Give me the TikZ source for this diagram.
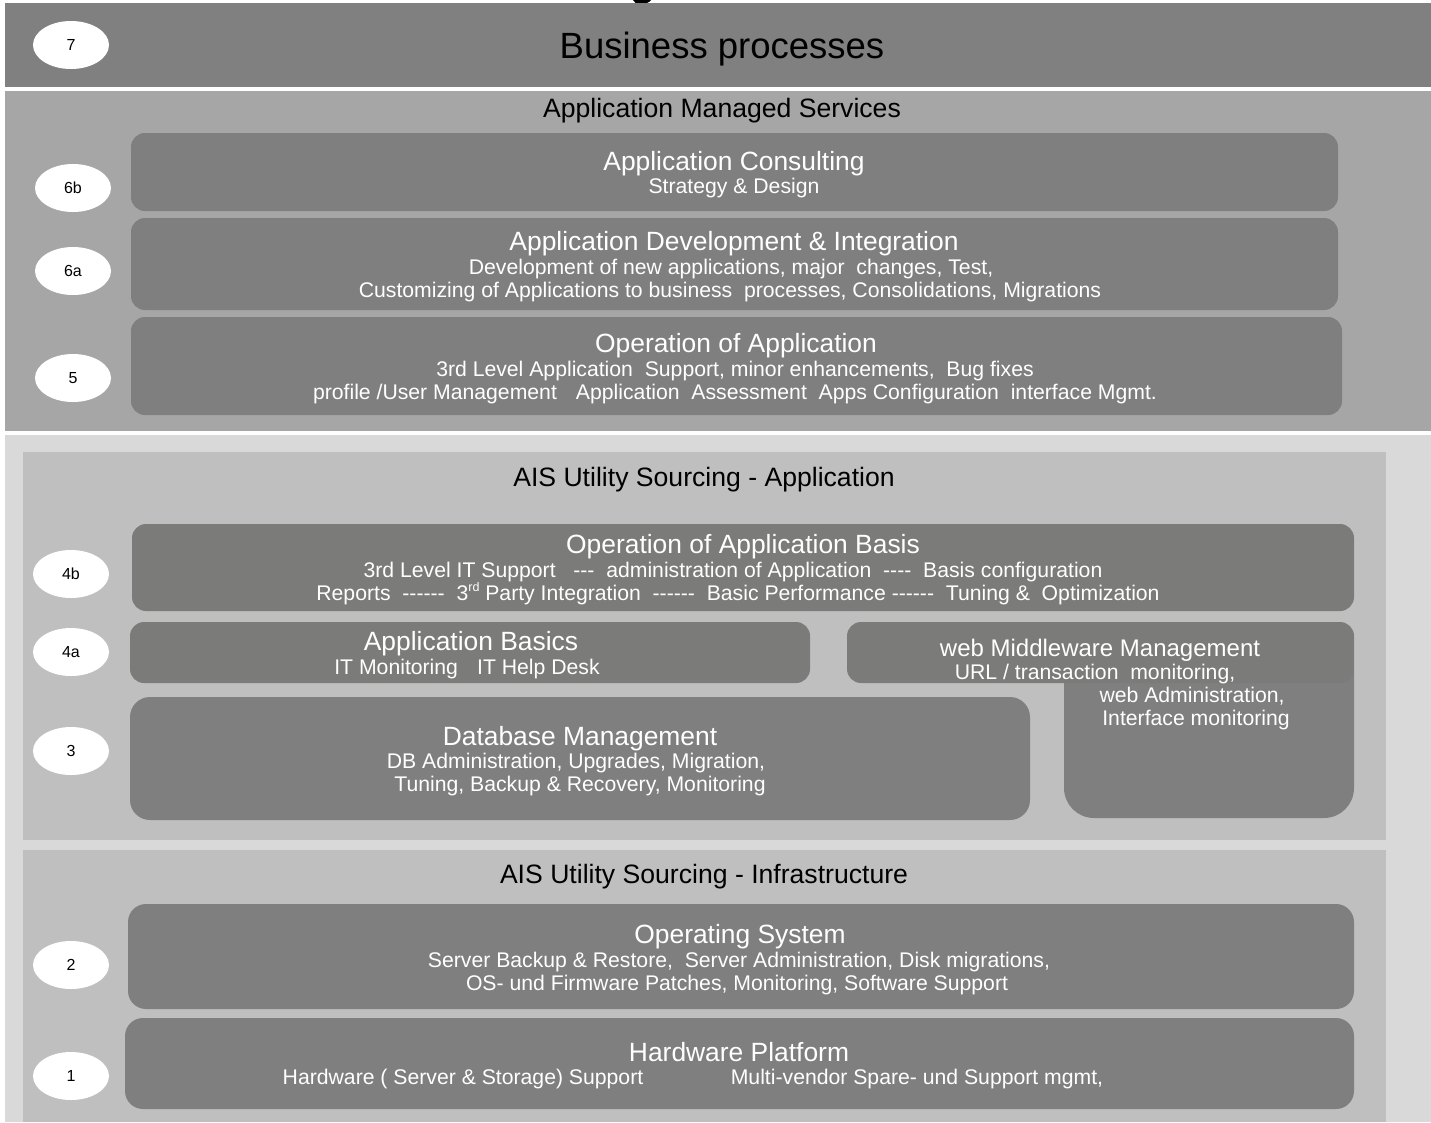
\documentclass[tikz,border=0pt]{standalone}
\usepackage{fontspec}
\setmainfont{Liberation Sans}
\usetikzlibrary{shapes.geometric,fit}

\definecolor{bandDark}{HTML}{808080}
\definecolor{bandMid}{HTML}{A6A6A6}
\definecolor{outerGrey}{HTML}{D9D9D9}
\definecolor{panelGrey}{HTML}{BFBFBF}
\definecolor{boxGrey}{HTML}{7F7F7F}
\definecolor{boxGreyB}{HTML}{7B7B79}

\tikzset{
  area/.style={fill=#1, draw=none, inner sep=0pt, outer sep=0pt, rectangle},
  pbox/.style={fill=boxGrey, draw=none, rounded corners=14pt, inner sep=0pt, outer sep=0pt, rectangle},
  tag/.style={ellipse, fill=white, draw=none, minimum width=76pt, minimum height=48pt,
              inner sep=0pt, font=\fontsize{16}{18}\selectfont},
  bigtitle/.style={anchor=base, inner sep=0pt, font=\fontsize{36.5}{40}\selectfont, text=black},
  head/.style={anchor=base, inner sep=0pt, font=\fontsize{26.6}{30}\selectfont, text=black},
  ttl/.style={anchor=base, inner sep=0pt, font=\fontsize{26.4}{30}\selectfont, text=white},
  sub/.style={anchor=base, inner sep=0pt, font=\fontsize{21.2}{24}\selectfont, text=white},
}
\newcommand{\gap}{\hspace{0.9em}}
\newcommand{\ordsup}[1]{\raisebox{0.42em}{\fontsize{12.5}{13}\selectfont #1}}

\begin{document}
\begin{tikzpicture}[x=1pt, y=-1pt]
\useasboundingbox (0,0) rectangle (1431,1122);
\fill[white] (0,0) rectangle (1431,1122);

% descender of a heading cut off at the top edge
\fill[black] (633,0) -- (651,0) .. controls (649,3) and (645,4) .. (640,4) .. controls (636,4) and (634,2) .. (633,0) -- cycle;

% horizontal bands
\node[area=bandDark, fit={(5,3) (1431,87)}] (band7) {};
\node[area=bandMid, fit={(5,91) (1431,431)}] (bandams) {};
\node[area=outerGrey, fit={(5,435) (1431,1122)}] (bandais) {};
\node[area=panelGrey, fit={(23,452) (1386,840)}] (panelapp) {};
\node[area=panelGrey, fit={(23,850) (1386,1122)}] (panelinf) {};

% band headings
\node[bigtitle] (tbp) at (722,58) {Business processes};
\node[head] (tams) at (722,117) {Application Managed Services};
\node[head] (tapp) at (704,486) {AIS Utility Sourcing - Application};
\node[head] (tinf) at (704,883) {AIS Utility Sourcing - Infrastructure};

% service boxes
\node[pbox, fit={(131,133) (1338,211)}] (bcons) {};
\node[pbox, fit={(131,218) (1338,310)}] (bdev) {};
\node[pbox, fit={(131,317) (1342,415)}] (bops) {};
\node[pbox, fill=boxGreyB, fit={(132,524) (1354,611)}] (bbasis) {};
\node[pbox, fill=boxGreyB, fit={(130,622) (810,683)}] (bbasics) {};
\node[pbox, rounded corners=30pt, fit={(1064,640) (1354,818)}] (bwebl) {};
\node[pbox, fill=boxGreyB, fit={(847,622) (1354,683)}] (bweb) {};
\node[pbox, rounded corners=20pt, fit={(130,697) (1030,820)}] (bdb) {};
\node[pbox, rounded corners=18pt, fit={(128,904) (1354,1009)}] (bos) {};
\node[pbox, rounded corners=18pt, fit={(125,1018) (1354,1109)}] (bhw) {};

% level tags
\node[tag] (l7) at (71,45) {7};
\node[tag] (l6b) at (73,188) {6b};
\node[tag] (l6a) at (73,271) {6a};
\node[tag] (l5) at (73,378) {5};
\node[tag] (l4b) at (71,574) {4b};
\node[tag] (l4a) at (71,652) {4a};
\node[tag] (l3) at (71,751) {3};
\node[tag] (l2) at (71,965) {2};
\node[tag] (l1) at (71,1076) {1};

% box texts
\node[ttl] (cons1) at (734,170) {Application Consulting};
\node[sub] (cons2) at (734,193) {Strategy \& Design};

\node[ttl] (dev1) at (734,250) {Application Development \& Integration};
\node[sub] (dev2) at (731,274) {Development of new applications, major\ \ changes, Test,};
\node[sub] (dev3) at (730,297) {Customizing of Applications to business\ \ processes, Consolidations, Migrations};

\node[ttl] (ops1) at (736,352) {Operation of Application};
\node[sub] (ops2) at (735,376) {3rd Level Application\ \ Support, minor enhancements,\ \ Bug fixes};
\node[sub] (ops3) at (735,399) {profile /User Management\gap Application\ \ Assessment\ \ Apps Configuration\ \ interface Mgmt.};

\node[ttl] (bas1) at (743,553) {Operation of Application Basis};
\node[sub] (bas2) at (733,577) {3rd Level IT Support\ \ \ -{}-{}-\ \ administration of Application\ \ -{}-{}-{}-\ \ Basis configuration};
\node[sub] (bas3) at (738,600) {Reports\ \ -{}-{}-{}-{}-{}-\ \ 3\ordsup{rd} Party Integration\ \ -{}-{}-{}-{}-{}-\ \ Basic Performance\ -{}-{}-{}-{}-{}-\ \ Tuning \&\ \ Optimization};

\node[ttl] (abs1) at (471,650) {Application Basics};
\node[sub] (abs2) at (467,674) {IT Monitoring\gap IT Help Desk};

\node[ttl, font=\fontsize{24}{28}\selectfont] (web1) at (1100,656) {web Middleware Management};
\node[sub] (web2) at (1095,679) {URL / transaction\ \ monitoring,};
\node[sub] (web3) at (1192,702) {web Administration,};
\node[sub] (web4) at (1196,725) {Interface monitoring};

\node[ttl] (db1) at (580,745) {Database Management};
\node[sub] (db2) at (576,768) {DB Administration, Upgrades, Migration,};
\node[sub] (db3) at (580,791) {Tuning, Backup \& Recovery, Monitoring};

\node[ttl] (os1) at (740,943) {Operating System};
\node[sub] (os2) at (739,967) {Server Backup \& Restore,\ \ Server Administration, Disk migrations,};
\node[sub] (os3) at (737,990) {OS- und Firmware Patches, Monitoring, Software Support};

\node[ttl] (hw1) at (739,1061) {Hardware Platform};
\node[sub] (hw2) at (463,1084) {Hardware ( Server \& Storage) Support};
\node[sub] (hw3) at (917,1084) {Multi-vendor Spare- und Support mgmt,};
\end{tikzpicture}
\end{document}
